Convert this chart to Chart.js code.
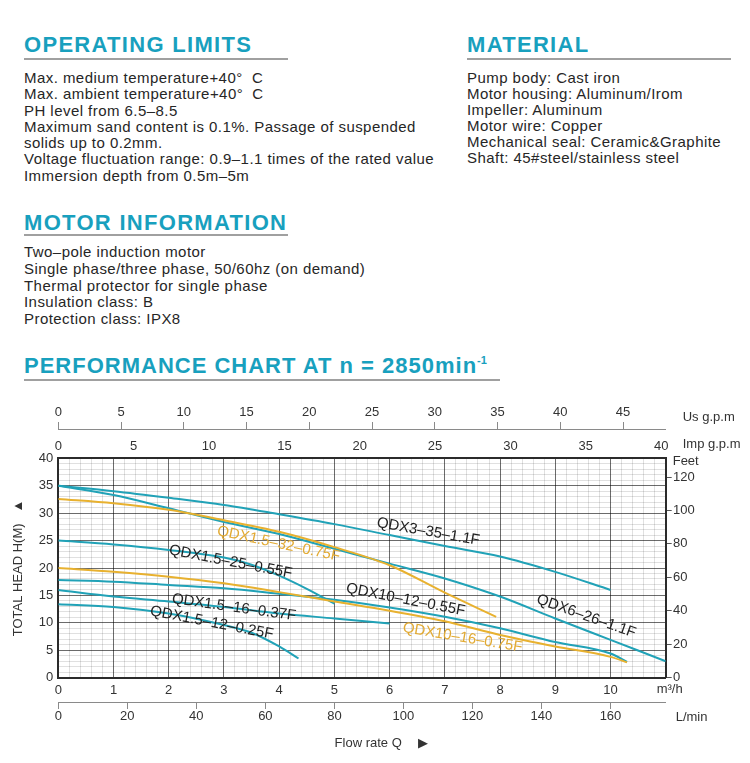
<!DOCTYPE html>
<html>
<head>
<meta charset="utf-8">
<title>QDX performance chart</title>
<script src="https://cdn.jsdelivr.net/npm/chart.js@4.4.0/dist/chart.umd.min.js"></script>
<style>
	html, body { margin: 0; padding: 0; background: #fff; }
	body { width: 750px; height: 763px; position: relative; overflow: hidden;
		font-family: "Liberation Sans", Arial, sans-serif; color: #262626; }
	.head { position: absolute; font-weight: bold; font-size: 22px; line-height: 22px;
		letter-spacing: 1.3px; color: #18a0be; white-space: nowrap; }
	.head sup { font-size: 11px; letter-spacing: 0; vertical-align: 9px; line-height: 0; }
	.rule { position: absolute; height: 2px; background: #a0a0a0; }
	.txt { position: absolute; font-size: 15px; line-height: 16.3px; letter-spacing: 0.45px; white-space: nowrap; }
	#chartBox { position: absolute; left: 0; top: 395px; width: 750px; height: 368px; }
</style>
</head>
<body>

<div class="head" style="left:24px; top:34px;">OPERATING LIMITS</div>
<div class="rule" style="left:24px; top:58px; width:264px;"></div>
<div class="txt" style="left:24px; top:70px;">
	Max. medium temperature+40°&nbsp;&nbsp;C<br>
	Max. ambient temperature+40°&nbsp;&nbsp;C<br>
	PH level from 6.5–8.5<br>
	Maximum sand content is 0.1%. Passage of suspended<br>
	solids up to 0.2mm.<br>
	Voltage fluctuation range: 0.9–1.1 times of the rated value<br>
	Immersion depth from 0.5m–5m
</div>

<div class="head" style="left:467px; top:34px;">MATERIAL</div>
<div class="rule" style="left:467px; top:58px; width:264px;"></div>
<div class="txt" style="left:467px; top:70px; line-height:16px;">
	Pump body: Cast iron<br>
	Motor housing: Aluminum/Irom<br>
	Impeller: Aluminum<br>
	Motor wire: Copper<br>
	Mechanical seal: Ceramic&amp;Graphite<br>
	Shaft: 45#steel/stainless steel
</div>

<div class="head" style="left:24px; top:212px;">MOTOR INFORMATION</div>
<div class="rule" style="left:24px; top:234px; width:264px;"></div>
<div class="txt" style="left:24px; top:244px; line-height:16.8px;">
	Two–pole induction motor<br>
	Single phase/three phase, 50/60hz (on demand)<br>
	Thermal protector for single phase<br>
	Insulation class: B<br>
	Protection class: IPX8
</div>

<div class="head" style="left:24px; top:355px; letter-spacing:1px;">PERFORMANCE CHART AT n = 2850min<sup>-1</sup></div>
<div class="rule" style="left:24px; top:379px; width:476px;"></div>

<div id="chartBox"><canvas id="perfChart" width="750" height="368"></canvas></div>

<script>
// 유량 (m3/h) / 양정 (m) - 그림에서 읽은 값
var qdx3_35_flow = [0, 1, 2, 3, 4, 5, 6, 7, 8, 9, 10];
var qdx3_35_head = [35, 34, 32.8, 31.5, 29.8, 28, 26, 24, 22.1, 19.3, 16];

var qdx6_26_flow = [0, 1, 2, 3, 4, 5, 6, 7, 8, 9, 10, 11];
var qdx6_26_head = [35, 33.3, 30.9, 28.4, 26.2, 23.5, 20.8, 18.1, 14.8, 10.8, 6.9, 3.0];

var qdx15_32_flow = [0, 1, 2, 3, 4, 5, 6, 7, 7.93];
var qdx15_32_head = [32.6, 31.8, 30.6, 28.7, 26.6, 23.8, 20.5, 15.5, 11.1];

var qdx15_25_flow = [0, 1, 2, 3, 3.5, 4, 4.5, 5];
var qdx15_25_head = [25, 24.3, 23.3, 21.9, 20.6, 18.6, 16.2, 13.5];

var qdx10_16_flow = [0, 1, 2, 3, 4, 5, 6, 7, 8, 9, 10, 10.3];
var qdx10_16_head = [20, 19.3, 18.4, 17.2, 15.6, 13.9, 12.2, 10.3, 7.8, 5.7, 3.8, 2.8];

var qdx10_12_flow = [0, 1, 2, 3, 4, 5, 6, 7, 8, 9, 10, 10.3];
var qdx10_12_head = [17.8, 17.5, 16.9, 16.3, 15.3, 14.2, 12.8, 11.1, 9.0, 6.5, 4.4, 2.9];

var qdx15_16_flow = [0, 1, 2, 3, 4, 5, 6];
var qdx15_16_head = [16, 14.8, 13.9, 12.9, 11.7, 10.8, 9.9];

var qdx15_12_flow = [0, 1, 2, 3, 3.5, 4, 4.35];
var qdx15_12_head = [13.4, 12.9, 11.7, 9.6, 8.2, 5.7, 3.5];

// 모델명
var modelNames = ['QDX3–35–1.1F', 'QDX6–26–1.1F', 'QDX1.5–32–0.75F', 'QDX1.5–25–0.55F',
		'QDX10–16–0.75F', 'QDX10–12–0.55F', 'QDX1.5–16–0.37F', 'QDX1.5–12–0.25F'];

// 축 범위 (m3/h, m) 와 보조 단위 축
var flowMax = 11;
var headMax = 40;
var usGpmMax = 48.4;
var impGpmMax = 40.3;
var lminMax = 176;
var feetMax = 131.2;

var TEAL = '#21a2b7';
var GOLD = '#e8b12f';
var MAJOR = 'rgba(0, 0, 0, 0.58)';
var MINOR = 'rgba(0, 0, 0, 0.12)';
var tickFont = { family : '"Liberation Sans Narrow", "Liberation Sans", Arial, sans-serif', size : 13 };

function toPoints(flow, head) {
	var pts = [];
	for (var i = 0; i < flow.length; i++) {
		pts.push({ x : flow[i], y : head[i] });
	}
	return pts;
}

function isWhole(v, step) {
	var r = v / step;
	return Math.abs(r - Math.round(r)) < 1e-6;
}

function curve(idx, flow, head, color) {
	return {
		label : modelNames[idx],
		data : toPoints(flow, head),
		borderColor : color,
		borderWidth : 2,
		pointRadius : 0,
		fill : false,
		cubicInterpolationMode : 'monotone'
	};
}

// 곡선 위 라벨 (위치는 데이터 단위, 각도는 도)
var curveLabels = [
	{ idx : 0, q : 6.70, h : 26.6, deg : 10, color : '#222' },
	{ idx : 2, q : 3.99, h : 24.4, deg : 12, color : '#e2aa33' },
	{ idx : 3, q : 3.12, h : 21.1, deg : 11, color : '#222' },
	{ idx : 5, q : 6.29, h : 14.2, deg : 11, color : '#222' },
	{ idx : 1, q : 9.56, h : 11.2, deg : 19.5, color : '#222' },
	{ idx : 4, q : 7.32, h : 7.3, deg : 9.5, color : '#e2aa33' },
	{ idx : 6, q : 3.18, h : 12.8, deg : 8, color : '#222' },
	{ idx : 7, q : 2.78, h : 10.0, deg : 11, color : '#222' }
];

var labelPlugin = {
	id : 'pumpLabels',
	afterDatasetsDraw : function(chart) {
		var ctx = chart.ctx;
		var sx = chart.scales.x;
		var sy = chart.scales.y;
		ctx.save();
		ctx.font = '15px "Liberation Sans", Arial, sans-serif';
		ctx.textAlign = 'center';
		ctx.textBaseline = 'middle';
		curveLabels.forEach(function(l) {
			ctx.save();
			ctx.translate(sx.getPixelForValue(l.q), sy.getPixelForValue(l.h));
			ctx.rotate(l.deg * Math.PI / 180);
			ctx.fillStyle = l.color;
			ctx.fillText(modelNames[l.idx], 0, 0);
			ctx.restore();
		});
		ctx.restore();
	},
	afterDraw : function(chart) {
		// 단위 표시
		var ctx = chart.ctx;
		var area = chart.chartArea;
		var s = chart.scales;
		ctx.save();
		ctx.font = '13px ' + tickFont.family;
		ctx.fillStyle = '#333';
		ctx.textAlign = 'left';
		ctx.textBaseline = 'middle';
		ctx.fillText('Us g.p.m', area.right + 17, s.us.bottom - 12);
		ctx.fillText('Imp g.p.m', area.right + 17, s.imp.bottom - 14);
		ctx.fillText('Feet', area.right + 7, area.top + 3);
		ctx.fillText('m³/h', area.right - 9, s.x.top + 12);
		ctx.fillText('L/min', area.right + 10, s.lmin.top + 15);
		ctx.restore();
	}
};

function fixSize(size) {
	return function(scale) {
		if (scale.isHorizontal()) {
			scale.height = size;
		} else {
			scale.width = size;
		}
	};
}

var ctx = document.getElementById('perfChart').getContext('2d');
var perfChart = new Chart(ctx, {
	type : 'line',
	data : {
		datasets : [
			curve(4, qdx10_16_flow, qdx10_16_head, GOLD),
			curve(2, qdx15_32_flow, qdx15_32_head, GOLD),
			curve(0, qdx3_35_flow, qdx3_35_head, TEAL),
			curve(1, qdx6_26_flow, qdx6_26_head, TEAL),
			curve(3, qdx15_25_flow, qdx15_25_head, TEAL),
			curve(5, qdx10_12_flow, qdx10_12_head, TEAL),
			curve(6, qdx15_16_flow, qdx15_16_head, TEAL),
			curve(7, qdx15_12_flow, qdx15_12_head, TEAL)
		]
	},
	options : {
		responsive : false,
		animation : false,
		layout : { padding : 0 },
		plugins : {
			legend : { display : false },
			tooltip : { enabled : false }
		},
		scales : {
			x : {
				type : 'linear',
				position : 'bottom',
				weight : 0,
				min : 0,
				max : flowMax,
				afterFit : fixSize(24.3),
				ticks : {
					stepSize : 0.2,
					maxTicksLimit : 1000,
					autoSkip : false,
					maxRotation : 0,
					padding : 4.5,
					color : '#333',
					font : tickFont,
					callback : function(v) {
						return (isWhole(v, 1) && v < flowMax) ? String(Math.round(v)) : '';
					}
				},
				grid : {
					drawTicks : false,
					color : function(c) {
						return (c.tick && isWhole(c.tick.value, 1)) ? MAJOR : MINOR;
					}
				},
				border : { color : '#2b2b2b', width : 2 }
			},
			lmin : {
				type : 'linear',
				position : 'bottom',
				weight : 1,
				min : 0,
				max : lminMax,
				afterFit : fixSize(61),
				ticks : { stepSize : 20, includeBounds : false, maxRotation : 0, padding : 0, color : '#333', font : tickFont },
				grid : { drawOnChartArea : false, tickLength : 7, color : '#8a8a8a' },
				border : { color : '#8a8a8a', width : 1 },
				title : {
					display : true,
					text : '\u2003\u2003\u2003Flow rate Q\u2003 ▶',
					color : '#333',
					font : { family : tickFont.family, size : 13 },
					padding : { top : 0, bottom : 12 }
				}
			},
			imp : {
				type : 'linear',
				position : 'top',
				weight : 0,
				min : 0,
				max : impGpmMax,
				afterFit : fixSize(29.3),
				ticks : { stepSize : 5, includeBounds : false, maxRotation : 0, padding : 3.8, color : '#333', font : tickFont },
				grid : { drawOnChartArea : false, drawTicks : false },
				border : { color : '#2b2b2b', width : 2 }
			},
			us : {
				type : 'linear',
				position : 'top',
				weight : 1,
				min : 0,
				max : usGpmMax,
				afterFit : fixSize(34),
				ticks : { stepSize : 5, includeBounds : false, maxRotation : 0, padding : 1.5, color : '#333', font : tickFont },
				grid : { drawOnChartArea : false, tickLength : 7, color : '#8a8a8a' },
				border : { color : '#8a8a8a', width : 1 }
			},
			y : {
				type : 'linear',
				position : 'left',
				min : 0,
				max : headMax,
				afterFit : fixSize(58.3),
				ticks : {
					stepSize : 1,
					maxTicksLimit : 1000,
					autoSkip : false,
					padding : 5,
					color : '#333',
					font : tickFont,
					callback : function(v) {
						return isWhole(v, 5) ? String(Math.round(v)) : '';
					}
				},
				grid : {
					drawTicks : false,
					color : function(c) {
						return (c.tick && isWhole(c.tick.value, 5)) ? MAJOR : MINOR;
					}
				},
				border : { color : '#2b2b2b', width : 2 },
				title : {
					display : true,
					text : 'TOTAL HEAD H(M)   ▲',
					color : '#333',
					font : { family : '"Liberation Sans", Arial, sans-serif', size : 13 },
					padding : { top : 11, bottom : 0 }
				}
			},
			feet : {
				type : 'linear',
				position : 'right',
				min : 0,
				max : feetMax,
				afterFit : fixSize(84.3),
				ticks : { stepSize : 20, includeBounds : false, padding : 1.3, color : '#333', font : tickFont },
				grid : { drawOnChartArea : false, tickLength : 6, color : '#555' },
				border : { color : '#2b2b2b', width : 2 }
			}
		}
	},
	plugins : [ labelPlugin ]
});
</script>
</body>
</html>
